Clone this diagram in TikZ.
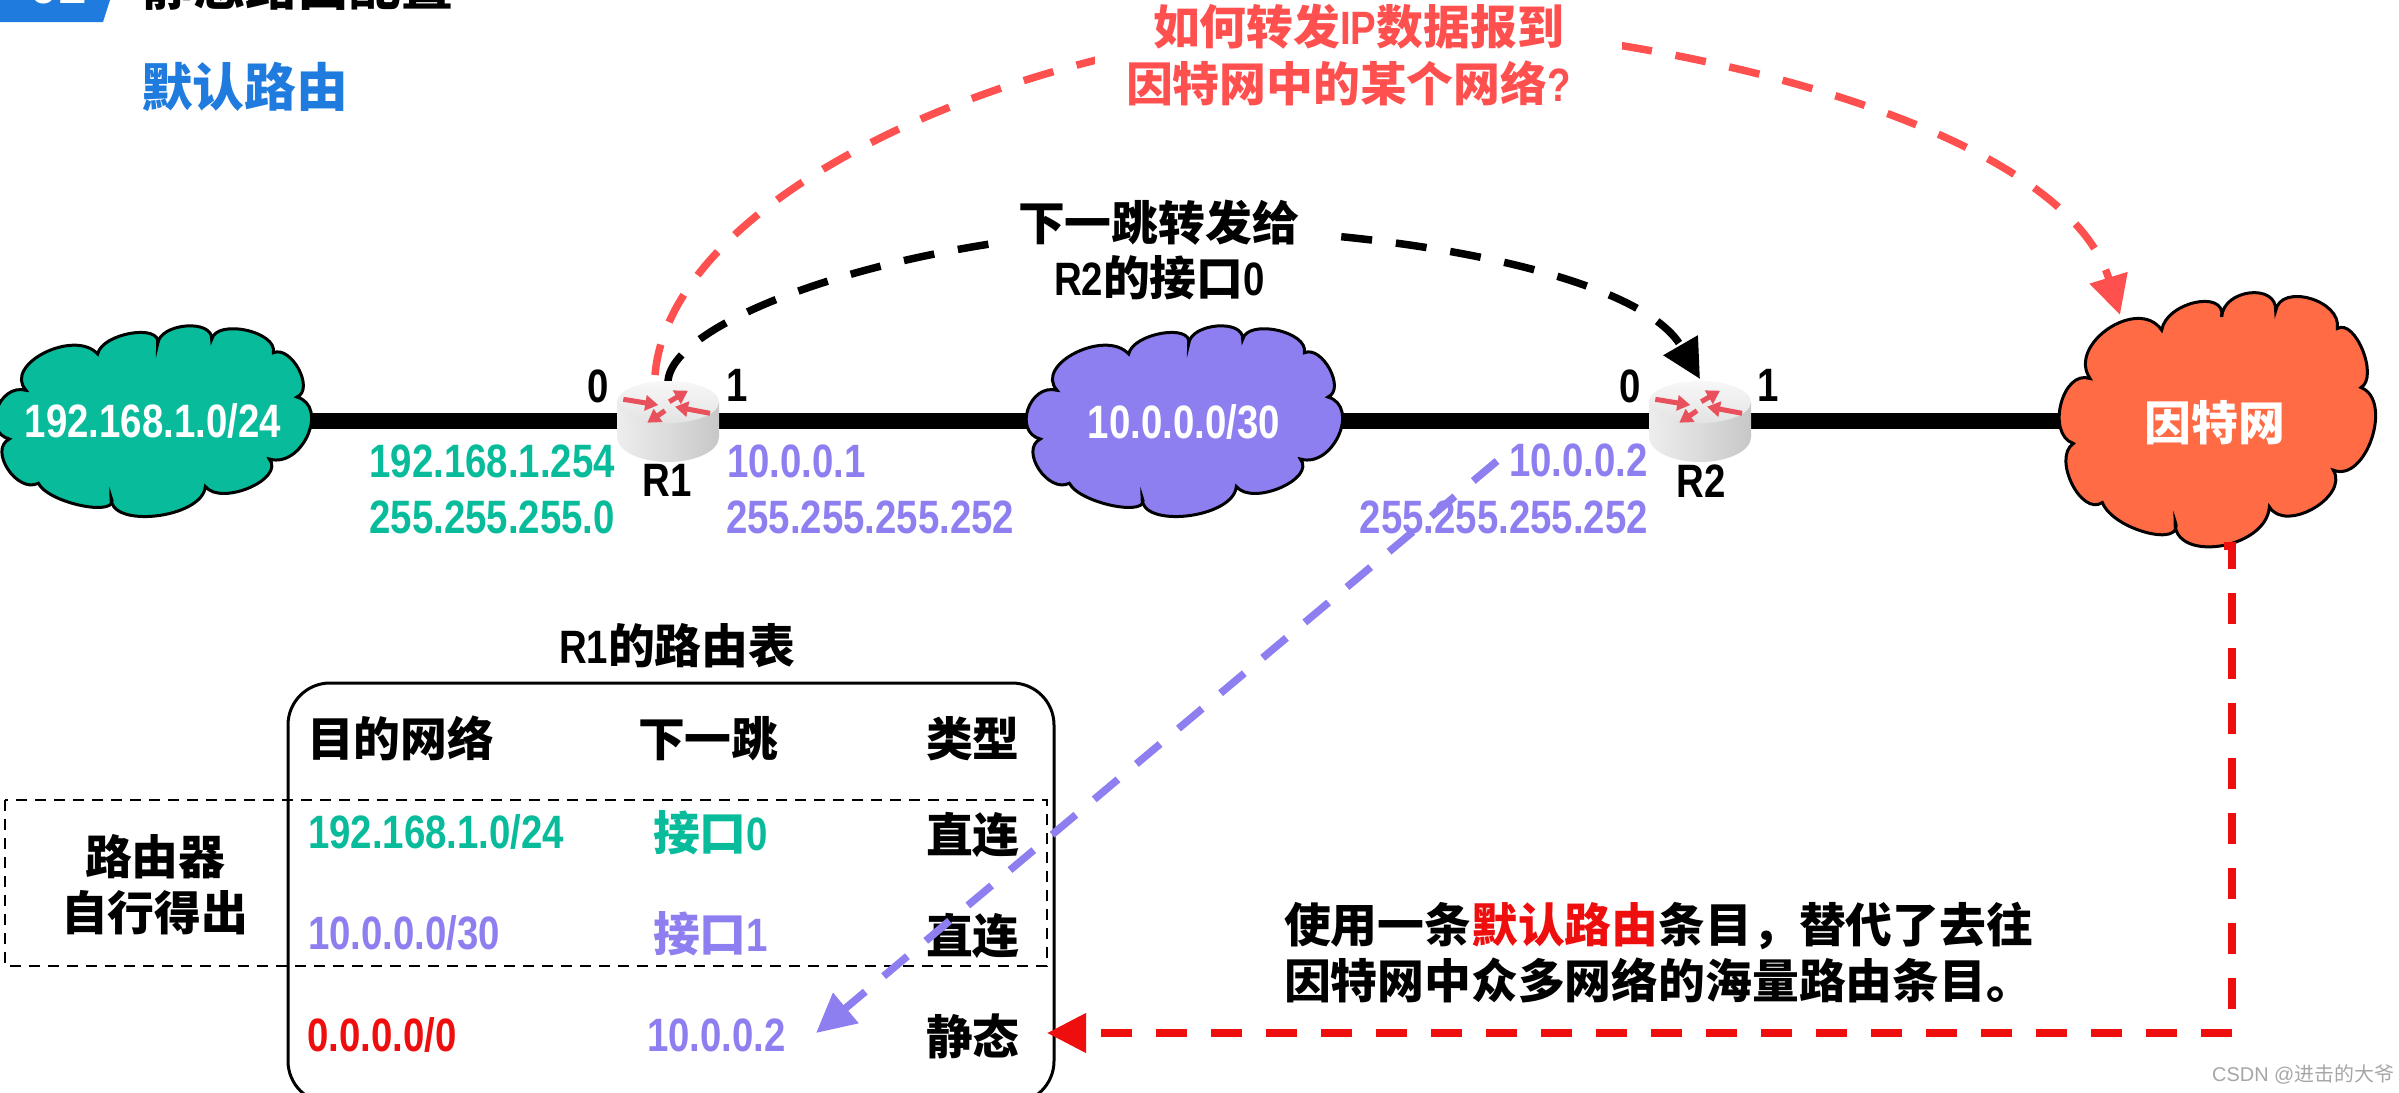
\documentclass[tikz,border=0pt]{standalone}
\usepackage{fontspec}
\usepackage{graphicx}
\usetikzlibrary{arrows.meta,backgrounds}
\setmainfont{Liberation Sans}
\newfontfamily\cjk{Noto Sans CJK SC}
\newcommand\lat[1]{\scalebox{.82}[1]{\bfseries #1}}
\newcommand\han[1]{{\cjk\bfseries #1}}
\definecolor{cgreen}{HTML}{08BB9A}
\definecolor{cpurple}{HTML}{8E7FF0}
\definecolor{corange}{HTML}{FF6B44}
\definecolor{cblue}{HTML}{1F7BDE}
\definecolor{cred}{HTML}{EE0E0E}
\definecolor{csalmon}{HTML}{FF5050}
\definecolor{carrow}{HTML}{E8505B}
\tikzset{
  lbl/.style={inner sep=0pt,outer sep=0pt,font=\fontsize{47}{56}\selectfont\bfseries},
  big/.style={lbl,font=\fontsize{52}{60}\selectfont\bfseries},
  bw/.style={lbl,anchor=base west},
  be/.style={lbl,anchor=base east},
  bc/.style={lbl,anchor=base},
  wire/.style={line width=16bp},
  conn/.style={line width=7.5bp,dash pattern=on 31bp off 24bp},
  bighead/.style={-{Triangle[length=39bp,width=38bp]}},
  routerarrow/.style={carrow,line width=5bp,-{Triangle[length=13bp,width=15bp]}},
}
\newcommand\cloudat[4]{%
  \draw[line width=3bp,fill=#4,shift={(#1,#2)},xscale=.3333,yscale=#3,shift={(-948,-478)}]
   (570,355) .. controls (500,252) and (715,107) .. (785,210)
   .. controls (798,126) and (978,86) .. (965,170)
   .. controls (970,86) and (1132,68) .. (1127,152)
   .. controls (1141,67) and (1326,120) .. (1312,205)
   .. controls (1366,174) and (1437,351) .. (1383,382)
   .. controls (1481,421) and (1398,669) .. (1300,630)
   .. controls (1348,710) and (1156,820) .. (1108,740)
   .. controls (1100,868) and (817,911) .. (825,783)
   .. controls (857,866) and (639,810) .. (607,727)
   .. controls (543,770) and (456,593) .. (520,550)
   .. controls (437,521) and (487,326) .. (570,355) -- cycle;}
\newcommand\routerat[2]{%
  \coordinate (#1) at (#2,421);
  \begin{scope}[shift={(#2,402)}]
    \shade[left color=black!7,right color=black!22,middle color=black!14]
      (-51,0) -- (-51,35) arc[start angle=180,end angle=360,x radius=51bp,y radius=25bp] -- (51,0) -- cycle;
    \shade[top color=black!3,bottom color=black!11] (0,0) ellipse[x radius=51bp,y radius=21bp];
    \draw[routerarrow] (-44.7,-2.7) -- (-9.7,3);
    \draw[routerarrow] (42,11.3) -- (7,4.7);
    \draw[routerarrow] (1.3,-.3) -- (20,-11.3);
    \draw[routerarrow] (-3,8.7) -- (-20.7,20.7);
  \end{scope}}
\begin{document}
\begin{tikzpicture}[x=1bp,y=-1bp]
\useasboundingbox (0,0) rectangle (2399,1092);
\clip (0,0) rectangle (2399,1092);
% banner and titles
\fill[cblue] (0,0) -- (110,0) -- (103,22) -- (0,22) -- cycle;
\node[big,text=white,anchor=base] (num) at (58,3) {01};
\node[big,anchor=base west] (title) at (142,5) {\han{静态路由配置}};
\node[big,anchor=base west,text=cblue] (sub) at (141,106) {\han{默认路由}};
% clouds
\coordinate (cloudA) at (152,421);
\coordinate (cloudB) at (1183,421);
\coordinate (cloudC) at (2216,421);
\cloudat{152}{421}{.25}{cgreen}
\cloudat{1183}{421}{.25}{cpurple}
\cloudat{2216}{419.5}{.3333}{corange}
\node[bc,text=white] (netA) at (153,437) {\lat{192.168.1.0/24}};
\node[bc,text=white] (netB) at (1184,438) {\lat{10.0.0.0/30}};
\node[bc,text=white] (netC) at (2215,440) {\han{因特网}};
% routers
\routerat{r1}{668}
\routerat{r2}{1700}
\node[bc] (r1name) at (667,496) {\lat{R1}};
\node[bc] (r2name) at (1701,497) {\lat{R2}};
\node[bc] (r1p0) at (598,402) {\lat{0}};
\node[bc] (r1p1) at (737,401) {\lat{1}};
\node[bc] (r2p0) at (1630,402) {\lat{0}};
\node[bc] (r2p1) at (1768,401) {\lat{1}};
% addresses
\node[be,text=cgreen] (a1) at (615,477) {\lat{192.168.1.254}};
\node[be,text=cgreen] (a2) at (615,533) {\lat{255.255.255.0}};
\node[bw,text=cpurple] (a3) at (727,477) {\lat{10.0.0.1}};
\node[bw,text=cpurple] (a4) at (726,533) {\lat{255.255.255.252}};
\node[be,text=cpurple] (a5) at (1648,476) {\lat{10.0.0.2}};
\node[be,text=cpurple] (a6) at (1648,533) {\lat{255.255.255.252}};
% callouts
\node[bw,text=csalmon] (q1) at (1153,44) {\han{如何转发}\lat{IP}\han{数据报到}};
\node[bw,text=csalmon] (q2) at (1126,101) {\han{因特网中的某个网络}\lat{?}};
\node[bw] (h1) at (1018,240) {\han{下一跳转发给}};
\node[bw] (h2) at (1054,295) {\lat{R2}\han{的接口}\lat{0}};
% table
\node[bw] (tt) at (559,663) {\lat{R1}\han{的路由表}};
\draw[line width=3bp,rounded corners=42bp] (288,683) rectangle (1054,1103);
\draw[line width=2.5bp,dash pattern=on 11bp off 8bp] (5,800) rectangle (1047,966);
\node[bw] (c1) at (307,756) {\han{目的网络}};
\node[bw] (c2) at (638,756) {\han{下一跳}};
\node[bw] (c3) at (926,756) {\han{类型}};
\node[bw,text=cgreen] (d1) at (308,848) {\lat{192.168.1.0/24}};
\node[bw,text=cgreen] (n1) at (653,850) {\han{接口}\lat{0}};
\node[bw] (t1) at (926,852) {\han{直连}};
\node[bw,text=cpurple] (d2) at (308,949) {\lat{10.0.0.0/30}};
\node[bw,text=cpurple] (n2) at (653,951) {\han{接口}\lat{1}};
\node[bw] (t2) at (926,953) {\han{直连}};
\node[bw,text=cred] (d3) at (307,1051) {\lat{0.0.0.0/0}};
\node[bw,text=cpurple] (n3) at (647,1051) {\lat{10.0.0.2}};
\node[bw] (t3) at (926,1054) {\han{静态}};
\node[bw] (s1) at (85,874) {\han{路由器}};
\node[bw] (s2) at (61,930) {\han{自行得出}};
% note
\node[bw] (m1) at (1284,942) {\han{使用一条\textcolor{cred}{默认路由}条目，替代了去往}};
\node[bw] (m2) at (1284,998) {\han{因特网中众多网络的海量路由条目。}};
% watermark
\node[inner sep=0pt,anchor=base west,text=black!35,font=\fontsize{20}{24}\selectfont] (wm) at (2212,1081) {CSDN @{\cjk 进击的大爷}};
% connector ends
\coordinate (r1topA) at (655,375);
\coordinate (r1topB) at (668,382);
\coordinate (peakA) at (1350,22);
\coordinate (peakB) at (1165,228);
\coordinate (cloudCtop) at (2120,315);
\coordinate (r2top) at (1700,379);
\coordinate (cloudCbot) at (2224,546);
\coordinate (elbowU) at (2232,546);
\coordinate (elbowD) at (2232,1033);
\coordinate (staticEnd) at (1047,1033);
\coordinate (r2addr) at (1497,461);
\coordinate (hopEnd) at (816,1033);
\begin{scope}[on background layer]
  \draw[wire] (cloudA) -- (r1);
  \draw[wire] (r1) -- (cloudB);
  \draw[wire] (cloudB) -- (r2);
  \draw[wire] (r2) -- (cloudC);
  \draw[conn,csalmon,bighead] (r1topA) .. controls (670,200) and (1000,40) .. (peakA)
     .. controls (1640,22) and (2060,120) .. (cloudCtop);
  \draw[conn,bighead] (r1topB) .. controls (670,320) and (900,235) .. (peakB)
     .. controls (1400,228) and (1640,275) .. (r2top);
  \fill[white] (1095,0) rectangle (1622,112);
  \fill[white] (990,190) rectangle (1335,305);
\end{scope}
\draw[conn,cred,bighead] (cloudCbot) -- (elbowU) -- (elbowD) -- (staticEnd);
\draw[conn,cpurple,bighead] (r2addr) -- (hopEnd);
\end{tikzpicture}
\end{document}
